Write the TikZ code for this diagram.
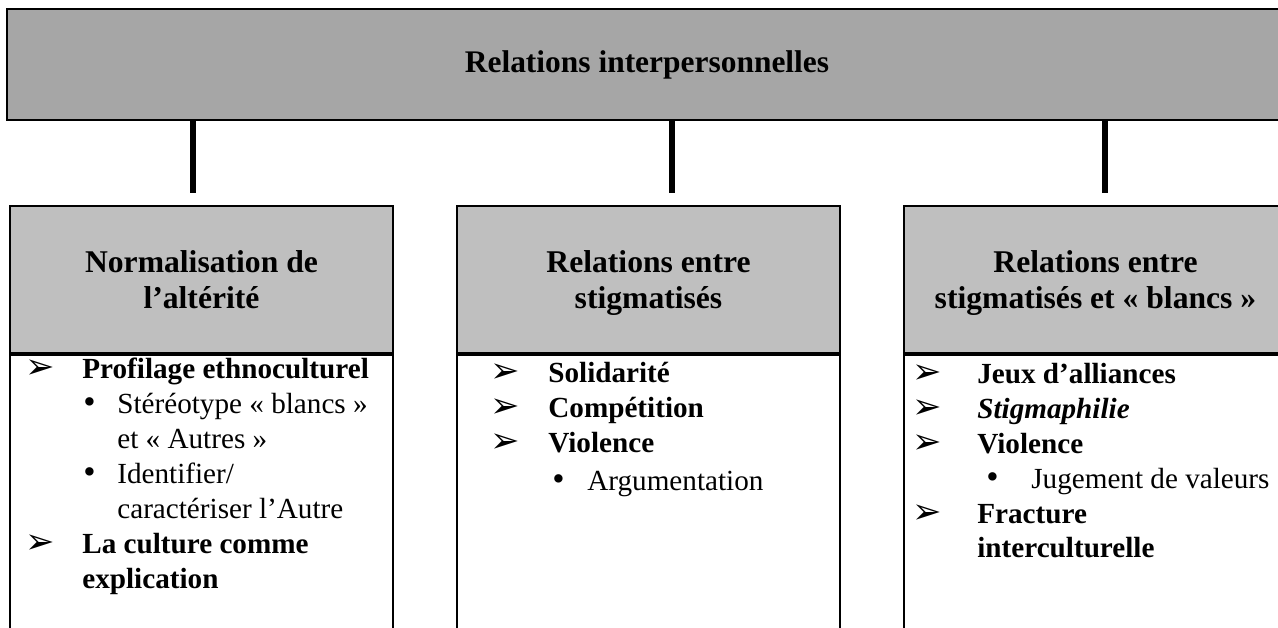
\documentclass[tikz,border=0pt]{standalone}
\usepackage{fontspec}
\setmainfont{Liberation Serif}
\newfontfamily\dingfont{DejaVu Sans}
\usepackage{tikz}
\usepackage{xcolor}
\usetikzlibrary{positioning,calc}
\definecolor{topgray}{HTML}{A6A6A6}
\definecolor{headgray}{HTML}{BFBFBF}
\newcommand{\arrowmark}{{\dingfont\fontsize{20}{20}\selectfont ➢}}
\newcommand{\arrowitem}[2]{\makebox[#1][l]{\arrowmark}#2}
\newcommand{\dotitem}[3]{\hspace*{#1}\makebox[#2][l]{\fontsize{20}{20}\selectfont•}#3}
\newcommand{\nodepth}[1]{\raisebox{0pt}[\height][0pt]{#1}}
\tikzset{
  topbox/.style={draw=black,fill=topgray,line width=1.5pt,
                 minimum width=25.6cm,minimum height=2.22cm,
                 font=\fontsize{17.9}{21}\selectfont\bfseries},
  headbox/.style={draw=black,fill=headgray,line width=1.3pt,
                  minimum width=7.66cm,minimum height=2.94cm,align=center,
                  font=\fontsize{18}{20.4}\selectfont\bfseries},
  bodybox/.style={draw=black,line width=1.1pt,anchor=north,
                  minimum width=7.66cm,minimum height=7cm},
  listtext/.style={anchor=north west,align=left,inner sep=0pt,
                   font=\fontsize{16.6}{19.84}\selectfont},
  link/.style={line width=3.2pt,color=black}
}

\begin{document}
\begin{tikzpicture}
  \clip (0,0) rectangle (25.56,-12.56);

  \node[topbox] (top) at (12.94,-1.29) {Relations interpersonnelles};

  \node[headbox] (hdrA) at (4.03,-5.59)  {Normalisation de\\l’altérité};
  \node[headbox] (hdrB) at (12.97,-5.59) {Relations entre\\\nodepth{stigmatisés}};
  \node[headbox] (hdrC) at (21.91,-5.59) {Relations entre\\\nodepth{stigmatisés et « blancs »}};

  \node[bodybox] (bodyA) at (hdrA.south) {};
  \node[bodybox] (bodyB) at (hdrB.south) {};
  \node[bodybox] (bodyC) at (hdrC.south) {};

  % short bars hanging from the title box
  \coordinate (e1) at (3.86,-3.86);
  \coordinate (e2) at (13.44,-3.86);
  \coordinate (e3) at (22.10,-3.86);
  \foreach \e in {e1,e2,e3} {
    \draw[link] (top.south -| \e) -- (\e);
  }

  \node[listtext] (listA) at (0.50,-7.16) {%
    \arrowitem{1.14cm}{\textbf{Profilage ethnoculturel}}\\
    \dotitem{1.16cm}{0.68cm}{Stéréotype « blancs »}\\
    \hspace*{1.84cm}et « Autres »\\
    \dotitem{1.16cm}{0.68cm}{Identifier/}\\
    \hspace*{1.84cm}caractériser l’Autre\\
    \arrowitem{1.14cm}{\textbf{La culture comme}}\\
    \hspace*{1.14cm}\textbf{explication}};

  \node[listtext] (listB) at (9.80,-7.24) {%
    \arrowitem{1.16cm}{\textbf{Solidarité}}\\
    \arrowitem{1.16cm}{\textbf{Compétition}}\\
    \arrowitem{1.16cm}{\textbf{Violence}}\\[2pt]
    \dotitem{1.24cm}{0.70cm}{Argumentation}};

  \node[listtext] (listC) at (18.24,-7.26) {%
    \arrowitem{1.30cm}{\textbf{Jeux d’alliances}}\\
    \arrowitem{1.30cm}{\textbf{\textit{Stigmaphilie}}}\\
    \arrowitem{1.30cm}{\textbf{Violence}}\\
    \dotitem{1.48cm}{0.90cm}{Jugement de valeurs}\\
    \arrowitem{1.30cm}{\textbf{Fracture}}\\
    \hspace*{1.30cm}\textbf{interculturelle}};
\end{tikzpicture}
\end{document}
